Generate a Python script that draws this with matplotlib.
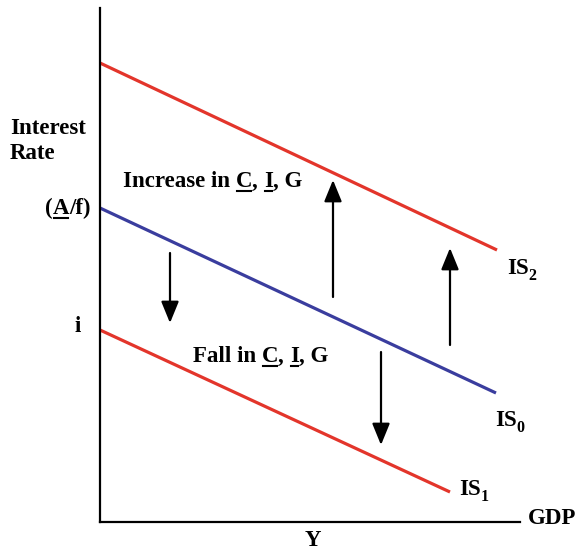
import matplotlib.pyplot as plt
from matplotlib.lines import Line2D

# curves: (label, x values, y values), units measured from the origin
is_names = ['IS2', 'IS0', 'IS1']
is_x = [[0, 397], [0, 396], [0, 350]]
is_y = [[459, 272], [314, 129], [192, 30]]
is_colors = ['#e3352b', '#3a3d9e', '#e3352b']

# shift arrows: x position, start y, end y
arrow_x = [233, 350, 70, 281]
arrow_y0 = [225, 177, 269, 170]
arrow_y1 = [342, 274, 199, 77]

plt.rcParams['font.family'] = ['Liberation Serif', 'DejaVu Serif']
plt.rcParams['font.weight'] = 'bold'
FS = 16.5


def rich_text(ax, x, y, parts, fig, size=FS, va='baseline'):
    # parts: list of (text, underline, subscript)
    r = fig.canvas.get_renderer()
    inv = ax.transData.inverted()
    cur = x
    for txt, under, sub in parts:
        s = size * 0.7 if sub else size
        yy = y - 6 if sub else y
        t = ax.text(cur, yy, txt, fontsize=s, fontweight='bold', va=va,
                    ha='left', clip_on=False)
        bb = t.get_window_extent(renderer=r)
        x0, _ = inv.transform((bb.x0, bb.y0))
        x1, _ = inv.transform((bb.x1, bb.y0))
        if under:
            ax.add_line(Line2D([x0 + 1, x1 - 1], [y - 3.5, y - 3.5], color='black',
                               lw=1.5, clip_on=False))
        cur = x1


def main():
    fig = plt.figure(figsize=(5.83, 5.49), dpi=100)
    ax = fig.add_axes([100 / 583, 27 / 549, 420 / 583, 514 / 549])
    ax.set_xlim(0, 420)
    ax.set_ylim(0, 514)
    for s in ['top', 'right']:
        ax.spines[s].set_visible(False)
    for s in ['left', 'bottom']:
        ax.spines[s].set_linewidth(1.6)
    ax.set_xticks([])
    ax.set_yticks([])

    for name, xs, ys, c in zip(is_names, is_x, is_y, is_colors):
        ax.plot(xs, ys, color=c, lw=2.3, solid_capstyle='butt', clip_on=False)

    for x, y0, y1 in zip(arrow_x, arrow_y0, arrow_y1):
        ax.annotate('', xy=(x, y1), xytext=(x, y0),
                    arrowprops=dict(arrowstyle='-|>,head_length=1.1,head_width=0.45',
                                    color='black', lw=1.6, mutation_scale=12,
                                    shrinkA=0, shrinkB=0))

    # axis labels
    ax.text(-90, 381, 'Interest\nRate', fontsize=FS, fontweight='bold',
            ha='left', va='center', linespacing=1.25, clip_on=False)
    ax.text(213, -18, 'Y', fontsize=FS, fontweight='bold', ha='center',
            va='center', clip_on=False)
    ax.text(428, 4, 'GDP', fontsize=FS, fontweight='bold', ha='left',
            va='center', clip_on=False)
    ax.text(-22, 195, 'i', fontsize=FS, fontweight='bold', ha='center',
            va='center', clip_on=False)

    rich_text(ax, -55, 308, [('(', False, False), ('A', True, False),
                             ('/f)', False, False)], fig)
    rich_text(ax, 23, 335, [('Increase in ', False, False), ('C', True, False),
                            (', ', False, False), ('I', True, False),
                            (', G', False, False)], fig)
    rich_text(ax, 93, 160, [('Fall in ', False, False), ('C', True, False),
                            (', ', False, False), ('I', True, False),
                            (', G', False, False)], fig)

    # curve labels
    rich_text(ax, 407, 248, [('IS', False, False), ('2', False, True)], fig)
    rich_text(ax, 395, 96, [('IS', False, False), ('0', False, True)], fig)
    rich_text(ax, 359, 27, [('IS', False, False), ('1', False, True)], fig)

    fig.savefig('out.png', dpi=100)
    plt.close(fig)


if __name__ == '__main__':
    main()
